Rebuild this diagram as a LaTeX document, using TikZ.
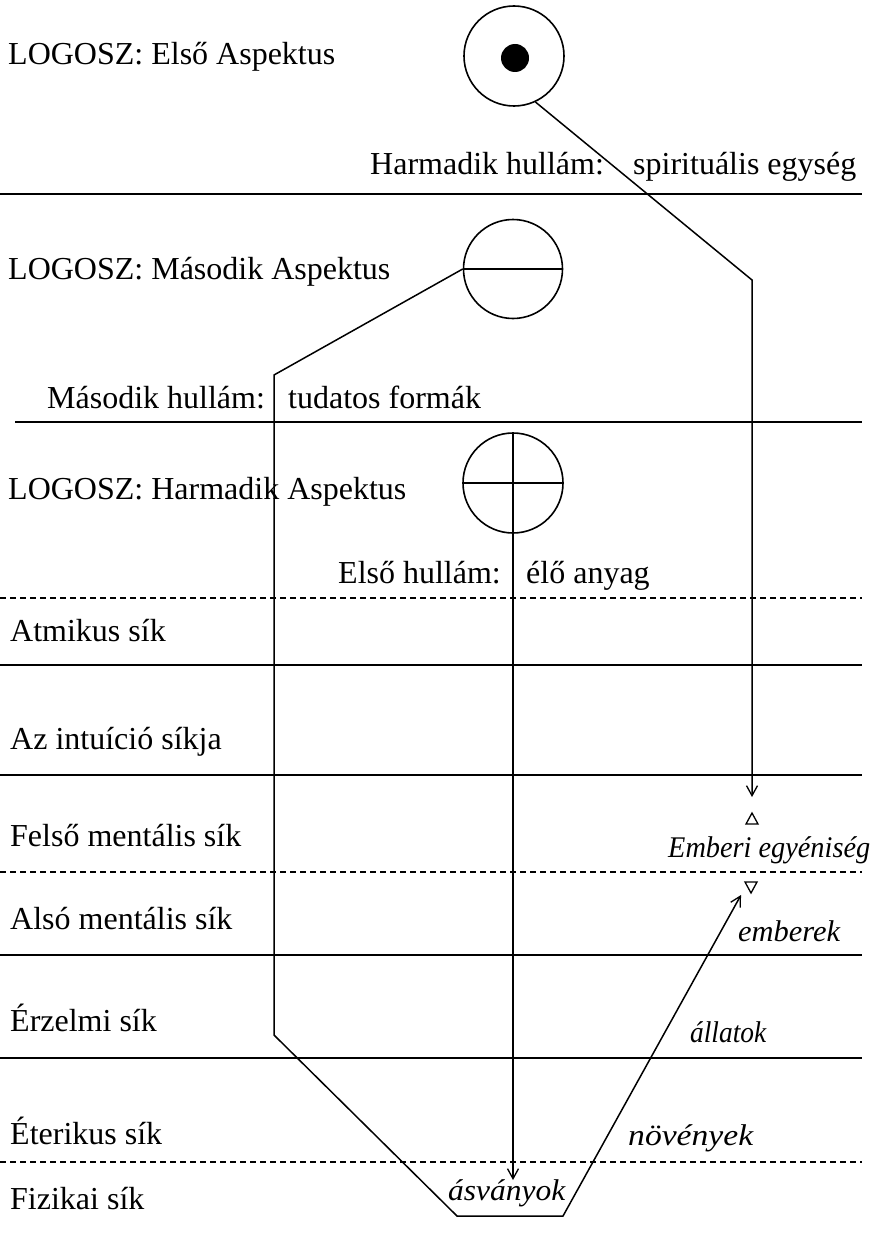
\documentclass[tikz,border=0pt]{standalone}
\usepackage{fontspec}
\usepackage{graphicx}
\setmainfont{Liberation Serif}
\usetikzlibrary{arrows.meta}
\newcommand{\fitw}[2]{\resizebox{#1}{\height}{#2}}
\begin{document}
\begin{tikzpicture}[x=1pt,y=-1pt,
  lbl/.style={anchor=base west, inner sep=0pt, font=\fontsize{32}{38}\selectfont},
  ilbl/.style={anchor=base west, inner sep=0pt, font=\fontsize{30}{36}\selectfont\itshape},
  plane/.style={line width=1.5pt},
  dplane/.style={line width=1.2pt, dash pattern=on 6pt off 4pt},
  conn/.style={line width=1.5pt, line join=miter},
  arr/.style={-{Straight Barb[length=10pt,width=11pt,line width=1.3pt]}},
  ring/.style={circle, draw, line width=1.6pt, minimum size=100pt, inner sep=0pt},
  tri/.style={line width=1.3pt, line join=miter}]
\useasboundingbox (0,0) rectangle (874,1236);

% plane separators
\draw[plane] (0,194) -- (862,194);
\draw[plane] (15,422) -- (862,422);
\draw[dplane] (0,598) -- (862,598);
\draw[plane] (0,665) -- (862,665);
\draw[plane] (0,775) -- (862,775);
\draw[dplane] (0,872) -- (862,872);
\draw[plane] (0,955) -- (862,955);
\draw[plane] (0,1058) -- (862,1058);
\draw[dplane] (0,1162) -- (862,1162);

% circles
\node[ring] (c1) at (514,56) {};
\fill (515,58) circle (14pt);
\node[ring, minimum size=99pt] (c2) at (513,269) {};
\draw[line width=1.6pt] (c2.west) -- (c2.east);
\node[ring] (c3) at (513,483) {};
\draw[line width=1.5pt] (c3.north) -- (c3.south);
\draw[line width=1.5pt] (c3.west) -- (c3.east);

% connector coordinates
\coordinate (b1) at (752,280);
\coordinate (t1) at (752,797);
\coordinate (b2) at (274,375);
\coordinate (b3) at (274,1035);
\coordinate (b4) at (457,1216);
\coordinate (b5) at (563,1216);
\coordinate (t2) at (741,895);
\coordinate (t3) at (513,1180);

\draw[conn, arr] (c1.-65) -- (b1) -- (t1);
\draw[conn, arr] (c2.west) -- (b2) -- (b3) -- (b4) -- (b5) -- (t2);
\draw[conn, arr] (c3.south) -- (t3);

% triangles
\draw[tri] (746,824) -- (758,824) -- (752,813) -- cycle;
\draw[tri] (745,882) -- (757,882) -- (751,893) -- cycle;

% labels
\node[lbl] (l1) at (8,65) {LOGOSZ: Első Aspektus};
\node[lbl] (l2) at (370,174) {Harmadik hullám:};
\node[lbl] (l3) at (633,174) {spirituális egység};
\node[lbl] (l4) at (8,279) {LOGOSZ: Második Aspektus};
\node[lbl] (l5) at (47,408) {Második hullám:};
\node[lbl] (l6) at (288,408) {tudatos formák};
\node[lbl] (l7) at (8,499) {LOGOSZ: Harmadik Aspektus};
\node[lbl] (l8) at (338,583) {Első hullám:};
\node[lbl] (l9) at (526,583) {élő anyag};
\node[lbl] (p1) at (10,641) {Atmikus sík};
\node[lbl] (p2) at (10,749) {Az intuíció síkja};
\node[lbl] (p3) at (10,846) {Felső mentális sík};
\node[lbl] (p4) at (10,929) {Alsó mentális sík};
\node[lbl] (p5) at (10,1031) {Érzelmi sík};
\node[lbl] (p6) at (10,1144) {Éterikus sík};
\node[lbl] (p7) at (10,1209) {Fizikai sík};
\node[ilbl] (i1) at (668,857) {\fitw{202pt}{Emberi egyéniség}};
\node[ilbl] (i2) at (738,941) {\fitw{102pt}{emberek}};
\node[ilbl] (i3) at (690,1042) {\fitw{76pt}{állatok}};
\node[ilbl] (i4) at (628,1145) {\fitw{125pt}{növények}};
\node[ilbl] (i5) at (448,1200) {\fitw{117pt}{ásványok}};
\end{tikzpicture}
\end{document}
